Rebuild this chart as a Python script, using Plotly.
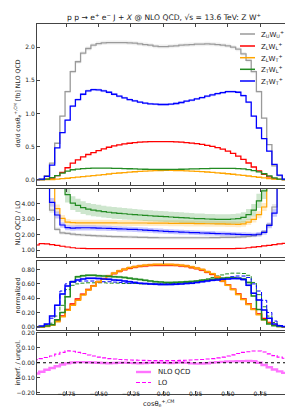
import numpy as np
import plotly.graph_objects as go
from plotly.subplots import make_subplots

# ---------------- data ----------------
BIN_EDGES = np.round(np.linspace(-1.0, 1.0, 51), 2)   # 50 bins of width 0.04
X_TICKS = [-0.75, -0.5, -0.25, 0.0, 0.25, 0.5, 0.75]

# panel 1: NLO QCD distributions [fb]
UU_NLO = [0.0, 0.01, 0.06, 0.25, 0.55, 0.96, 1.33, 1.63, 1.78, 1.91,
          1.98, 2.03, 2.055, 2.065, 2.07, 2.07, 2.07, 2.07, 2.065, 2.06,
          2.05, 2.04, 2.03, 2.015, 2.01, 2.01, 2.015, 2.02, 2.03, 2.035,
          2.04, 2.045, 2.045, 2.05, 2.045, 2.04, 2.03, 2.02, 2.0, 1.97,
          1.90, 1.80, 1.63, 1.33, 0.93, 0.53, 0.21, 0.06, 0.01, 0.0]
LL_NLO = [0.0, 0.0, 0.01, 0.025, 0.06, 0.11, 0.18, 0.25, 0.30, 0.345,
          0.38, 0.41, 0.44, 0.465, 0.49, 0.51, 0.525, 0.54, 0.55, 0.56,
          0.567, 0.572, 0.575, 0.576, 0.576, 0.576, 0.574, 0.571, 0.567, 0.561,
          0.553, 0.543, 0.532, 0.518, 0.502, 0.484, 0.46, 0.432, 0.398, 0.357,
          0.307, 0.252, 0.192, 0.132, 0.082, 0.042, 0.016, 0.005, 0.0, 0.0]
LT_NLO = [0.0, 0.0, 0.001, 0.003, 0.008, 0.015, 0.022, 0.03, 0.038, 0.046,
          0.054, 0.062, 0.07, 0.078, 0.086, 0.094, 0.101, 0.108, 0.114, 0.12,
          0.125, 0.13, 0.134, 0.137, 0.139, 0.14, 0.14, 0.139, 0.137, 0.134,
          0.13, 0.126, 0.121, 0.116, 0.11, 0.104, 0.097, 0.09, 0.082, 0.074,
          0.065, 0.056, 0.047, 0.037, 0.028, 0.018, 0.01, 0.004, 0.001, 0.0]
TL_NLO = [0.0, 0.0, 0.01, 0.03, 0.06, 0.10, 0.13, 0.15, 0.16, 0.168,
          0.172, 0.174, 0.175, 0.175, 0.174, 0.172, 0.17, 0.168, 0.165, 0.163,
          0.16, 0.158, 0.156, 0.155, 0.154, 0.154, 0.155, 0.156, 0.158, 0.16,
          0.162, 0.164, 0.166, 0.168, 0.17, 0.171, 0.172, 0.172, 0.17, 0.167,
          0.162, 0.152, 0.138, 0.118, 0.09, 0.058, 0.028, 0.01, 0.002, 0.0]
TT_NLO = [0.0, 0.01, 0.05, 0.22, 0.48, 0.71, 0.90, 1.11, 1.21, 1.29,
          1.34, 1.36, 1.355, 1.34, 1.32, 1.29, 1.26, 1.235, 1.21, 1.19,
          1.17, 1.155, 1.145, 1.14, 1.135, 1.135, 1.14, 1.15, 1.165, 1.185,
          1.20, 1.22, 1.24, 1.26, 1.28, 1.30, 1.315, 1.33, 1.33, 1.32,
          1.27, 1.17, 0.96, 0.78, 0.62, 0.43, 0.23, 0.07, 0.01, 0.0]

# panel 2: NLO QCD / LO
UU_K = [9, 9, 9, 3.6, 2.35, 2.12, 2.08, 2.04, 2.0, 1.98,
        1.96, 1.94, 1.92, 1.91, 1.89, 1.88, 1.87, 1.86, 1.85, 1.84,
        1.83, 1.82, 1.81, 1.81, 1.8, 1.8, 1.8, 1.8, 1.8, 1.8,
        1.8, 1.8, 1.8, 1.8, 1.81, 1.81, 1.82, 1.82, 1.83, 1.84,
        1.86, 1.89, 1.93, 2.0, 2.18, 2.65, 3.8, 9, 9, 9]
LL_K = [1.33, 1.42, 1.4, 1.36, 1.3, 1.25, 1.2, 1.15, 1.12, 1.11,
        1.1, 1.1, 1.1, 1.1, 1.1, 1.09, 1.09, 1.09, 1.09, 1.09,
        1.09, 1.09, 1.09, 1.09, 1.09, 1.09, 1.09, 1.09, 1.09, 1.09,
        1.09, 1.09, 1.1, 1.1, 1.1, 1.1, 1.1, 1.1, 1.1, 1.11,
        1.12, 1.15, 1.19, 1.23, 1.27, 1.31, 1.35, 1.4, 1.43, 1.32]
LT_K = [9, 9, 9, 9, 3.7, 3.06, 2.82, 2.78, 2.77, 2.77,
        2.77, 2.77, 2.77, 2.77, 2.77, 2.77, 2.76, 2.76, 2.76, 2.76,
        2.76, 2.76, 2.75, 2.75, 2.75, 2.75, 2.74, 2.74, 2.74, 2.73,
        2.73, 2.72, 2.72, 2.71, 2.71, 2.7, 2.7, 2.69, 2.68, 2.67,
        2.7, 2.82, 3.0, 3.3, 3.8, 9, 9, 9, 9, 9]
TL_K = [9, 9, 9, 9, 9, 9, 4.6, 4.05, 3.9, 3.76,
        3.66, 3.6, 3.55, 3.5, 3.46, 3.42, 3.39, 3.36, 3.33, 3.3,
        3.28, 3.25, 3.23, 3.21, 3.19, 3.17, 3.15, 3.13, 3.11, 3.09,
        3.07, 3.05, 3.04, 3.02, 3.01, 3.0, 3.0, 3.0, 3.02, 3.05,
        3.12, 3.3, 3.6, 4.2, 4.85, 9, 9, 9, 9, 9]
TT_K = [9, 9, 9, 4.1, 3.28, 2.63, 2.46, 2.43, 2.44, 2.45,
        2.45, 2.44, 2.43, 2.42, 2.41, 2.4, 2.38, 2.37, 2.35, 2.34,
        2.32, 2.3, 2.28, 2.26, 2.24, 2.22, 2.2, 2.19, 2.17, 2.16,
        2.14, 2.13, 2.11, 2.1, 2.09, 2.07, 2.06, 2.05, 2.04, 2.02,
        2.01, 2.0, 1.99, 2.03, 2.15, 2.6, 3.4, 9, 9, 9]
# relative scale-uncertainty half widths
K_BAND = {"UU": 0.05, "LL": 0.02, "LT": 0.07, "TL": 0.11, "TT": 0.07}
XS_BAND = 0.015
N_BAND = 0.025

# panel 3: normalized shapes (solid NLO QCD, dashed LO)
LL_N = [0.0, 0.0, 0.008, 0.03, 0.08, 0.15, 0.24, 0.32, 0.39, 0.455,
        0.52, 0.575, 0.63, 0.67, 0.71, 0.745, 0.775, 0.80, 0.82, 0.835,
        0.845, 0.855, 0.86, 0.865, 0.865, 0.865, 0.865, 0.86, 0.855, 0.845,
        0.83, 0.815, 0.795, 0.765, 0.735, 0.695, 0.64, 0.585, 0.525, 0.46,
        0.39, 0.32, 0.25, 0.18, 0.115, 0.06, 0.025, 0.007, 0.0, 0.0]
LT_N = [0.0, 0.0, 0.005, 0.02, 0.07, 0.14, 0.23, 0.30, 0.37, 0.445,
        0.515, 0.57, 0.63, 0.67, 0.71, 0.75, 0.78, 0.805, 0.825, 0.84,
        0.85, 0.86, 0.865, 0.87, 0.87, 0.87, 0.87, 0.865, 0.86, 0.85,
        0.835, 0.82, 0.80, 0.77, 0.74, 0.70, 0.64, 0.58, 0.52, 0.45,
        0.38, 0.31, 0.24, 0.17, 0.10, 0.05, 0.02, 0.005, 0.0, 0.0]
TL_N = [0.0, 0.0, 0.01, 0.03, 0.1, 0.2, 0.42, 0.63, 0.7, 0.715,
        0.72, 0.72, 0.715, 0.71, 0.705, 0.70, 0.695, 0.69, 0.68, 0.67,
        0.66, 0.65, 0.64, 0.63, 0.625, 0.62, 0.62, 0.622, 0.625, 0.63,
        0.635, 0.64, 0.65, 0.655, 0.665, 0.67, 0.68, 0.685, 0.685, 0.68,
        0.67, 0.62, 0.43, 0.24, 0.1, 0.04, 0.015, 0.003, 0.0, 0.0]
TT_N = [0.0, 0.01, 0.04, 0.15, 0.3, 0.46, 0.57, 0.63, 0.655, 0.67,
        0.68, 0.68, 0.675, 0.67, 0.665, 0.655, 0.65, 0.64, 0.63, 0.62,
        0.61, 0.605, 0.6, 0.595, 0.59, 0.59, 0.592, 0.595, 0.6, 0.605,
        0.61, 0.62, 0.63, 0.64, 0.65, 0.655, 0.665, 0.67, 0.675, 0.675,
        0.66, 0.58, 0.47, 0.375, 0.235, 0.12, 0.04, 0.015, 0.003, 0.0]
TL_LO_N = [0.0, 0.0, 0.01, 0.05, 0.15, 0.3, 0.52, 0.58, 0.6, 0.61,
           0.615, 0.615, 0.615, 0.615, 0.61, 0.61, 0.61, 0.605, 0.605, 0.605,
           0.6, 0.6, 0.6, 0.6, 0.6, 0.6, 0.605, 0.61, 0.615, 0.62,
           0.63, 0.64, 0.655, 0.67, 0.69, 0.71, 0.725, 0.74, 0.75, 0.75,
           0.745, 0.72, 0.62, 0.45, 0.28, 0.15, 0.06, 0.015, 0.0, 0.0]
TT_LO_N = [0.0, 0.005, 0.03, 0.12, 0.3, 0.5, 0.6, 0.625, 0.635, 0.64,
           0.64, 0.64, 0.635, 0.63, 0.63, 0.625, 0.62, 0.615, 0.61, 0.61,
           0.605, 0.6, 0.6, 0.6, 0.6, 0.6, 0.6, 0.605, 0.61, 0.615,
           0.62, 0.63, 0.64, 0.65, 0.66, 0.67, 0.68, 0.69, 0.70, 0.71,
           0.71, 0.69, 0.6, 0.5, 0.37, 0.2, 0.08, 0.02, 0.0, 0.0]

# panel 4: interference / unpolarized
INT_NLO = [-0.072, -0.06, -0.047, -0.035, -0.023, -0.012, -0.004, 0.002, 0.004, 0.004,
           0.003, 0.002, 0.0, -0.002, -0.003, -0.002, 0.0, 0.001, -0.001, -0.002,
           -0.003, -0.002, 0.0, 0.002, 0.001, 0.0, -0.002, 0.002, 0.003, 0.001,
           -0.004, -0.006, -0.005, -0.003, 0.001, 0.004, 0.006, 0.008, 0.009, 0.01,
           0.011, 0.012, 0.011, 0.0, -0.015, -0.03, -0.045, -0.058, -0.068, -0.077]
INT_LO = [0.02, 0.028, 0.035, 0.045, 0.058, 0.07, 0.08, 0.077, 0.07, 0.062,
          0.052, 0.045, 0.038, 0.033, 0.028, 0.025, 0.022, 0.02, 0.019, 0.018,
          0.017, 0.016, 0.015, 0.015, 0.014, 0.014, 0.015, 0.015, 0.016, 0.017,
          0.019, 0.02, 0.022, 0.025, 0.028, 0.033, 0.038, 0.045, 0.053, 0.062,
          0.07, 0.074, 0.079, 0.079, 0.072, 0.06, 0.048, 0.038, 0.03, 0.025]

KEYS = ["UU", "LL", "LT", "TL", "TT"]
COL = {"UU": "#9a9a9a", "LL": "#ff0000", "LT": "#ffa500", "TL": "#228b22", "TT": "#0000ff"}
RGB = {"UU": "154,154,154", "LL": "255,0,0", "LT": "255,165,0", "TL": "34,139,34", "TT": "0,0,255"}
NAMES = {"UU": "Z<sub>U</sub>W<sub>U</sub><sup>+</sup>",
         "LL": "Z<sub>L</sub>W<sub>L</sub><sup>+</sup>",
         "LT": "Z<sub>L</sub>W<sub>T</sub><sup>+</sup>",
         "TL": "Z<sub>T</sub>W<sub>L</sub><sup>+</sup>",
         "TT": "Z<sub>T</sub>W<sub>T</sub><sup>+</sup>"}

FONT = "DejaVu Sans"
W, H = 293, 410
L, R, T, B = 29, 11, 16, 24
PH = H - T - B


def px_x(px):
    return (px - L) / (W - L - R)


def px_y(py):
    return (H - B - py) / PH


# ---------------- figure ----------------
fig = make_subplots(rows=4, cols=1, shared_xaxes=True, vertical_spacing=0.01)


def stepped(vals):
    return list(BIN_EDGES), list(vals) + [vals[-1]]


def add_step(row, vals, color, width=1.2, dash="solid", name=None):
    x, y = stepped(vals)
    fig.add_trace(go.Scatter(x=x, y=y, mode="lines", name=name,
                             line=dict(color=color, width=width, dash=dash, shape="hv"),
                             showlegend=False, hoverinfo="skip"),
                  row=row, col=1)


def add_band(row, vals, rel, rgb, alpha=0.25):
    lo = [v * (1 - rel) for v in vals]
    hi = [v * (1 + rel) for v in vals]
    x, ylo = stepped(lo)
    _, yhi = stepped(hi)
    fig.add_trace(go.Scatter(x=x, y=ylo, mode="lines", line=dict(width=0, shape="hv"),
                             showlegend=False, hoverinfo="skip"), row=row, col=1)
    fig.add_trace(go.Scatter(x=x, y=yhi, mode="lines", line=dict(width=0, shape="hv"),
                             fill="tonexty", fillcolor=f"rgba({rgb},{alpha})",
                             showlegend=False, hoverinfo="skip"), row=row, col=1)


xs = {"UU": UU_NLO, "LL": LL_NLO, "LT": LT_NLO, "TL": TL_NLO, "TT": TT_NLO}
ks = {"UU": UU_K, "LL": LL_K, "LT": LT_K, "TL": TL_K, "TT": TT_K}

# panel 1
for key in KEYS:
    add_band(1, xs[key], XS_BAND, RGB[key], 0.15)
for key in KEYS:
    add_step(1, xs[key], COL[key], 1.3, name=NAMES[key])

# panel 2
for key in KEYS:
    add_band(2, ks[key], K_BAND[key], RGB[key], 0.22)
for key in KEYS:
    add_step(2, ks[key], COL[key], 1.2)

# panel 3
for key, vals in [("LL", LL_N), ("LT", LT_N), ("TL", TL_N), ("TT", TT_N)]:
    add_band(3, vals, N_BAND, RGB[key], 0.3)
add_step(3, TL_LO_N, COL["TL"], 1.0, dash="4px,2px")
add_step(3, TT_LO_N, COL["TT"], 1.0, dash="4px,2px")
for key, vals in [("LL", LL_N), ("LT", LT_N), ("TL", TL_N), ("TT", TT_N)]:
    add_step(3, vals, COL[key], 1.5)

# panel 4
NLO_INT_COLOR = "rgba(255,0,255,0.55)"
add_step(4, INT_NLO, NLO_INT_COLOR, 2.4, name="NLO QCD")
add_step(4, INT_LO, "#ff00ff", 1.1, dash="4px,2px", name="LO")
fig.add_shape(type="line", xref="x4 domain", yref="y4", x0=0, x1=1, y0=0, y1=0,
              line=dict(color="black", width=1, dash="dot"))

# ---------------- legends (drawn as glyph + text) ----------------
LEG1_Y = [26, 38, 49.7, 61.3, 73]
for key, py in zip(KEYS, LEG1_Y):
    fig.add_shape(type="line", xref="paper", yref="paper",
                  x0=px_x(232), x1=px_x(247), y0=px_y(py), y1=px_y(py),
                  line=dict(color=COL[key], width=1.5))
    fig.add_annotation(text=NAMES[key], xref="paper", yref="paper",
                       x=px_x(251), y=px_y(py), xanchor="left", yanchor="middle",
                       showarrow=False, font=dict(family=FONT, size=7, color="#222"))

LEG2 = [("NLO QCD", 364, NLO_INT_COLOR, 2.4, "solid"), ("LO", 374.5, "#ff00ff", 1.1, "4px,2px")]
for text, py, color, width, dash in LEG2:
    fig.add_shape(type="line", xref="paper", yref="paper",
                  x0=px_x(128), x1=px_x(143), y0=px_y(py), y1=px_y(py),
                  line=dict(color=color, width=width, dash=dash))
    fig.add_annotation(text=text, xref="paper", yref="paper",
                       x=px_x(148), y=px_y(py), xanchor="left", yanchor="middle",
                       showarrow=False, font=dict(family=FONT, size=7, color="#222"))

# ---------------- layout ----------------


def dom(top_px, bot_px):
    return [(H - B - bot_px) / PH, (H - B - top_px) / PH]


axis_common = dict(showline=True, linecolor="#444", linewidth=1, mirror="ticks",
                   ticks="inside", ticklen=3, tickwidth=0.8, tickcolor="#444",
                   showgrid=False, zeroline=False,
                   tickfont=dict(family=FONT, size=6, color="#222"))

fig.update_layout(
    width=W, height=H, margin=dict(l=L, r=R, t=T, b=B, autoexpand=False),
    paper_bgcolor="white", plot_bgcolor="white", showlegend=False,
    font=dict(family=FONT, size=7, color="#222"),
)

for i in range(1, 5):
    fig.update_xaxes(range=[-0.977, 0.98], tickvals=X_TICKS, tickformat=".2f",
                     **axis_common, row=i, col=1)
fig.update_xaxes(ticklabelstandoff=-6, row=4, col=1)

fig.update_yaxes(domain=dom(16, 177), range=[-0.08, 2.35], tickvals=[0, 0.5, 1.0, 1.5, 2.0],
                 tickformat=".1f", row=1, col=1, **axis_common)
fig.update_yaxes(domain=dom(181, 249), range=[0.55, 4.97], tickvals=[1, 2, 3, 4],
                 tickformat=".2f", row=2, col=1, **axis_common)
fig.update_yaxes(domain=dom(253, 322), range=[-0.045, 0.92], tickvals=[0, 0.2, 0.4, 0.6, 0.8],
                 tickformat=".2f", row=3, col=1, **axis_common)
fig.update_yaxes(domain=dom(325, 386), range=[-0.21, 0.2], tickvals=[-0.2, -0.1, 0, 0.1, 0.2],
                 tickformat=".2f", row=4, col=1, **axis_common)

annos = [
    ("p p → e<sup>+</sup> e<sup>−</sup> J + <i>X</i> @ NLO QCD, √s = 13.6 TeV: Z W<sup>+</sup>",
     155.5, 9, 0, 7.6),
    ("dσ/d cosθ<sub>e</sub><sup>+,CM</sup> [fb] NLO QCD", 9.5, 96, -90, 6.2),
    ("NLO QCD / LO", 9.5, 215, -90, 6.5),
    ("normalized", 9.5, 288, -90, 6.5),
    ("interf. / unpol.", 9.5, 355, -90, 6.5),
    ("cosθ<sub>e</sub><sup>+,CM</sup>", 150, 395, 0, 6.8),
]
for text, x, y, ang, size in annos:
    fig.add_annotation(text=text, xref="paper", yref="paper", x=px_x(x), y=px_y(y),
                       xanchor="center", yanchor="middle", showarrow=False, textangle=ang,
                       font=dict(family=FONT, size=size, color="#222"))

fig.write_html("out.html")
